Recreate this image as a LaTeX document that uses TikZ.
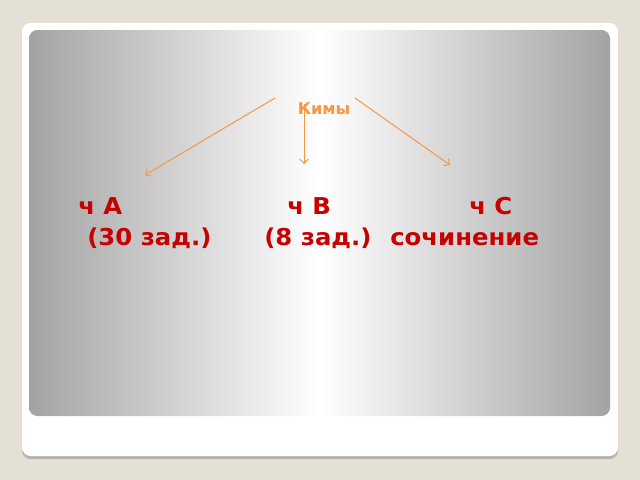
\documentclass[tikz,border=0pt]{standalone}
\usepackage{fontspec}
\setmainfont{DejaVu Sans}
\usetikzlibrary{arrows}
\usetikzlibrary{arrows.meta}
\usetikzlibrary{positioning}
\tikzset{part/.style = {anchor = base west, inner sep = 0, text = mred, font = \fontsize{16.5}{18}\selectfont\bfseries\addfontfeature{FakeStretch = 1.05}}}
\tikzset{kim/.style = {-{Straight Barb[length = 3pt, width = 6pt]}, draw = morange, line width = 0.7}}
\definecolor{mred}{rgb}{0.78, 0, 0}
\definecolor{morange}{rgb}{0.97, 0.59, 0.27}
\definecolor{mbeige}{rgb}{0.9, 0.88, 0.84}
\definecolor{mgray}{rgb}{0.64, 0.64, 0.64}

\begin{document}
\begin{tikzpicture}[x = 0.025cm, y = -0.025cm]
    \fill [mbeige] (0, 0) rectangle (640, 480);
    \fill [gray!60, rounded corners = 6] (22, 25) rectangle (618, 459);
    \fill [white, rounded corners = 6] (22, 23) rectangle (618, 456);
    \shade [rounded corners = 6, left color = mgray, right color = mgray, middle color = white]
      (29, 30) rectangle (610, 416);

    \node [anchor = base, inner sep = 0, text = morange, font = \fontsize{11.5}{13}\selectfont\bfseries] (kimy) at (324, 114) {Кимы};

    \node [part] (chA) at (78, 214) {ч А};
    \node [part] (chB) at (287, 214) {ч В};
    \node [part] (chC) at (469, 214) {ч С};

    \node [part] (zadA) at (87, 245) {(30 зад.)};
    \node [part] (zadB) at (264, 245) {(8 зад.)};
    \node [part] (soch) at (390, 245) {сочинение};

    \coordinate (fromA) at (275, 98);
    \coordinate (toA) at (145, 175);
    \coordinate (fromB) at (304, 104);
    \coordinate (toB) at (304, 164);
    \coordinate (fromC) at (355, 98);
    \coordinate (toC) at (450, 165);

    \draw [kim] (fromA) -- (toA);
    \draw [kim] (fromB) -- (toB);
    \draw [kim] (fromC) -- (toC);
  \end{tikzpicture}
\end{document}
